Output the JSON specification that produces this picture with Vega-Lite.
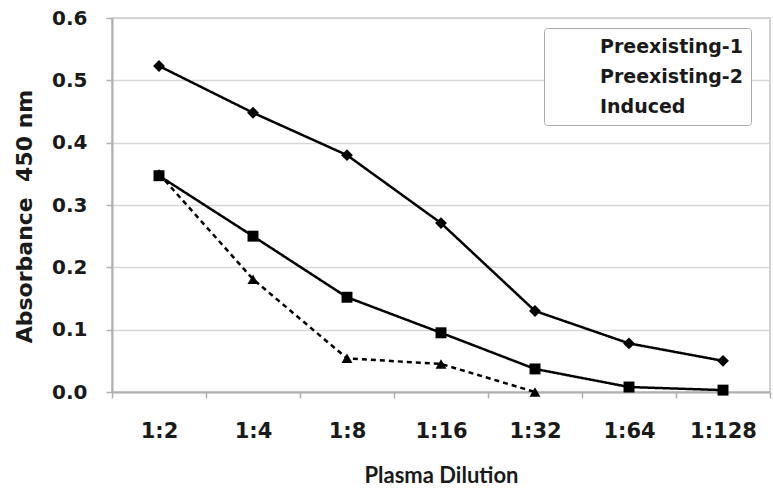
{
  "$schema": "https://vega.github.io/schema/vega-lite/v6.json",
  "autosize": {"type": "none"},
  "width": 658,
  "height": 374,
  "padding": {"left": 112, "top": 18, "right": 3, "bottom": 103},
  "background": "white",
  "config": {
    "font": "Lato",
    "view": {"stroke": "#c4c4c4", "strokeWidth": 1.5},
    "axis": {
      "labelFont": "DejaVu Sans", "labelFontWeight": "bold", "labelColor": "#1a1a1a",
      "titleFont": "Lato", "titleFontWeight": "bold", "titleColor": "#1a1a1a",
      "domainColor": "#b0b0b0", "domainWidth": 2, "tickColor": "#b0b0b0", "tickWidth": 1.5
    },
    "legend": {
      "title": null, "orient": "none", "legendX": 432, "legendY": 10,
      "direction": "vertical",
      "labelFont": "DejaVu Sans", "labelFontWeight": "bold", "labelFontSize": 19, "labelColor": "#1a1a1a",
      "symbolSize": 484, "symbolFillColor": "black", "symbolStrokeWidth": 0,
      "labelOffset": 26, "rowPadding": 9,
      "padding": 8, "strokeColor": "#aaaaaa", "fillColor": "white", "cornerRadius": 3
    }
  },
  "data": {
    "values": [
      {"dilution": "1:2", "series": "Preexisting-1", "absorbance": 0.523},
      {"dilution": "1:4", "series": "Preexisting-1", "absorbance": 0.448},
      {"dilution": "1:8", "series": "Preexisting-1", "absorbance": 0.380},
      {"dilution": "1:16", "series": "Preexisting-1", "absorbance": 0.271},
      {"dilution": "1:32", "series": "Preexisting-1", "absorbance": 0.130},
      {"dilution": "1:64", "series": "Preexisting-1", "absorbance": 0.078},
      {"dilution": "1:128", "series": "Preexisting-1", "absorbance": 0.050},
      {"dilution": "1:2", "series": "Preexisting-2", "absorbance": 0.347},
      {"dilution": "1:4", "series": "Preexisting-2", "absorbance": 0.250},
      {"dilution": "1:8", "series": "Preexisting-2", "absorbance": 0.152},
      {"dilution": "1:16", "series": "Preexisting-2", "absorbance": 0.095},
      {"dilution": "1:32", "series": "Preexisting-2", "absorbance": 0.037},
      {"dilution": "1:64", "series": "Preexisting-2", "absorbance": 0.008},
      {"dilution": "1:128", "series": "Preexisting-2", "absorbance": 0.003},
      {"dilution": "1:2", "series": "Induced", "absorbance": 0.350},
      {"dilution": "1:4", "series": "Induced", "absorbance": 0.181},
      {"dilution": "1:8", "series": "Induced", "absorbance": 0.054},
      {"dilution": "1:16", "series": "Induced", "absorbance": 0.045},
      {"dilution": "1:32", "series": "Induced", "absorbance": 0.0}
    ]
  },
  "encoding": {
    "x": {
      "field": "dilution", "type": "ordinal", "bandPosition": 0.5,
      "sort": ["1:2", "1:4", "1:8", "1:16", "1:32", "1:64", "1:128"],
      "scale": {"type": "band", "paddingInner": 0, "paddingOuter": 0},
      "axis": {
        "title": "Plasma Dilution", "titleFontSize": 22, "titlePadding": 24,
        "labelFontSize": 21, "labelAngle": 0, "labelPadding": 22,
        "tickBand": "extent", "tickSize": 6, "grid": false
      }
    },
    "y": {
      "field": "absorbance", "type": "quantitative",
      "scale": {"domain": [0, 0.6], "nice": false},
      "axis": {
        "title": "Absorbance\u00a0 450 nm", "titleFont": "DejaVu Sans", "titleFontSize": 22, "titlePadding": 15, "titleY": 198,
        "values": [0, 0.1, 0.2, 0.3, 0.4, 0.5, 0.6], "format": ".1f",
        "labelFontSize": 20, "labelPadding": 19, "tickSize": 6,
        "grid": true, "gridColor": "#d6d6d6", "gridWidth": 1.5
      }
    }
  },
  "layer": [
    {
      "mark": {"type": "line", "color": "black", "strokeWidth": 2.5},
      "encoding": {
        "detail": {"field": "series"},
        "strokeDash": {
          "field": "series", "type": "nominal",
          "scale": {"domain": ["Preexisting-1", "Preexisting-2", "Induced"], "range": [[1, 0], [1, 0], [5, 4]]},
          "legend": {
            "encode": {
              "symbols": {
                "shape": {"value": {"signal": "datum.value === 'Preexisting-1' ? 'M-1,-0.114H3.09V0.114H-1Z M1.045,-0.5L1.545,0L1.045,0.5L0.545,0Z' : datum.value === 'Preexisting-2' ? 'M-1,-0.114H3.09V0.114H-1Z M0.6,-0.45H1.49V0.45H0.6Z' : 'M-1,-0.114H-0.545V0.114H-1Z M-0.18,-0.114H0.27V0.114H-0.18Z M1.82,-0.114H2.27V0.114H1.82Z M2.64,-0.114H3.09V0.114H2.64Z M1.045,-0.5L1.545,0.4L0.545,0.4Z'"}},
                "fill": {"value": "black"},
                "strokeWidth": {"value": 0}
              }
            }
          }
        }
      }
    },
    {
      "transform": [{"filter": {"field": "series", "equal": "Preexisting-1"}}],
      "mark": {"type": "point", "shape": "diamond", "filled": true, "color": "black", "opacity": 1, "size": 140}
    },
    {
      "transform": [{"filter": {"field": "series", "equal": "Preexisting-2"}}],
      "mark": {"type": "point", "shape": "square", "filled": true, "color": "black", "opacity": 1, "size": 120}
    },
    {
      "transform": [{"filter": {"field": "series", "equal": "Induced"}}],
      "mark": {"type": "point", "shape": "triangle-up", "filled": true, "color": "black", "opacity": 1, "size": 120}
    }
  ]
}
